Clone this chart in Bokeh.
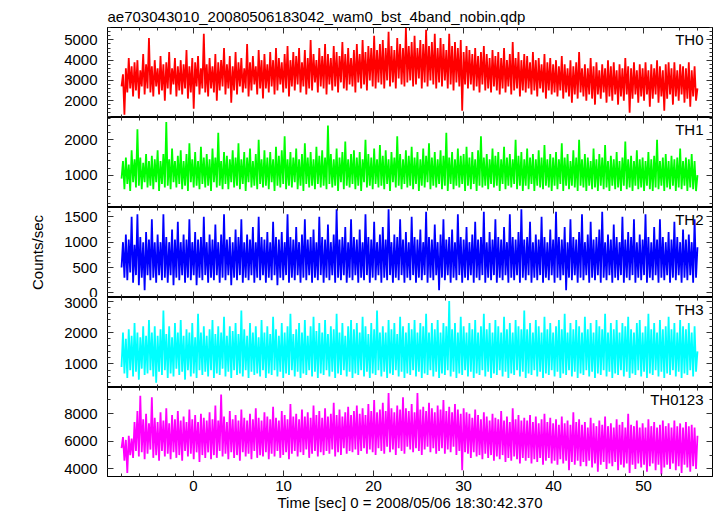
from bokeh.plotting import figure
from bokeh.models import Range1d, LinearAxis, SingleIntervalTicker, Label, CustomJSTickFormatter
from bokeh.layouts import column
from bokeh.embed import file_html
from bokeh.resources import INLINE
import numpy as np

title_text = "ae703043010_20080506183042_wam0_bst_4band_nobin.qdp"
x_label = "Time [sec] 0 = 2008/05/06 18:30:42.370"
y_label = "Counts/sec"
band_names = ["TH0", "TH1", "TH2", "TH3", "TH0123"]

t_start = -8.0
t_end = 56.0

th0 = [
    2700, 3300, 1300, 3600, 2400, 4100, 2600, 3700, 2200, 3900, 2500, 4000, 2100, 3500, 2700, 4300, 2300, 3800, 2600, 5100,
    2400, 3700, 2200, 4000, 2700, 3600, 2300, 4200, 2500, 3800, 2000, 3900, 2600, 4400, 2300, 3600, 2800, 4100, 2200, 3700,
    2500, 4000, 2300, 3800, 2600, 4500, 2100, 3700, 2400, 4100, 1600, 3900, 2700, 4200, 2300, 3600, 2600, 5300, 2400, 3800,
    2200, 4100, 2600, 3700, 2400, 4300, 2000, 3900, 2500, 4000, 2700, 4600, 2300, 3800, 2600, 4200, 1900, 3700, 2500, 4400,
    2300, 3900, 2700, 4100, 2400, 3600, 2600, 4800, 2200, 3900, 2500, 4200, 2800, 3700, 2300, 4500, 2600, 4000, 2100, 4300,
    2600, 3800, 2400, 4400, 2700, 4000, 2300, 4600, 2500, 4100, 2800, 3900, 2400, 4300, 2600, 4700, 2200, 4000, 2700, 4400,
    2500, 4200, 2800, 4600, 2400, 3900, 2700, 4500, 2300, 4100, 2600, 5000, 2500, 4300, 2900, 4000, 2400, 4600, 2700, 4200,
    2600, 4800, 2300, 4300, 2800, 4100, 2500, 4700, 2700, 4400, 2400, 4200, 2900, 4900, 2600, 4300, 2500, 4600, 2800, 4100,
    2700, 4500, 2400, 4800, 2900, 4300, 2600, 5000, 2800, 4400, 2500, 4700, 3000, 4600, 2700, 5200, 2600, 4500, 2900, 4800,
    2800, 5000, 2600, 4600, 3000, 5400, 2700, 4700, 2900, 4500, 2600, 5100, 3100, 4800, 2800, 4600, 2700, 5600, 2900, 4700,
    3000, 4900, 2700, 5200, 2800, 4600, 3100, 5000, 2600, 4800, 2900, 5500, 2700, 4700, 3000, 4900, 2800, 5300, 2600, 4600,
    2900, 5100, 2700, 4800, 3000, 4500, 2600, 5300, 2800, 4700, 2500, 4900, 2900, 4600, 2700, 5000, 1500, 4400, 2800, 4700,
    2600, 4500, 2800, 4300, 2500, 4600, 2700, 4200, 2400, 4400, 2800, 4700, 2500, 4300, 2600, 4100, 2400, 4500, 2700, 4200,
    2500, 4400, 2300, 4100, 2600, 4600, 2400, 4000, 2700, 4300, 2300, 4900, 2500, 4100, 2600, 4400, 2200, 4000, 2500, 4300,
    2400, 4200, 2600, 3900, 2300, 4400, 2500, 4000, 2200, 4100, 2600, 3800, 2400, 4300, 2100, 3900, 2500, 4100, 2300, 3800,
    2400, 4000, 2200, 3700, 2500, 4200, 2100, 3800, 2400, 3600, 2200, 4000, 1900, 3700, 2300, 3900, 2100, 4400, 2400, 3600,
    2200, 3800, 2000, 3600, 2300, 4100, 2100, 3700, 1800, 3900, 2300, 3500, 2100, 3800, 2400, 3600, 1900, 4000, 2200, 3700,
    2000, 3900, 2300, 3500, 1800, 3800, 2200, 3600, 2000, 4100, 2300, 3700, 1400, 3600, 2100, 3900, 2300, 3500, 1900, 3800,
    2200, 3600, 2000, 3900, 2300, 3500, 1700, 3800, 2100, 3600, 2300, 4000, 1900, 3700, 2200, 3500, 1500, 3800, 2100, 3900,
    2300, 3600, 1800, 3900, 2200, 3500, 2000, 3800, 2300, 3700, 1900, 3600, 2100, 3900, 1700, 3500, 2200, 3700, 2000, 2600,
]

th1 = [
    900, 1400, 600, 1500, 750, 1300, 550, 1700, 800, 1450, 650, 2300, 700, 1500, 600, 1350, 800, 1600, 650, 1400,
    700, 1550, 600, 1450, 800, 1700, 550, 1400, 750, 1600, 650, 2500, 700, 1450, 600, 1750, 800, 1400, 650, 1550,
    750, 1700, 600, 1400, 700, 1600, 550, 1900, 800, 1450, 650, 1650, 700, 1400, 600, 1800, 750, 1500, 650, 1600,
    700, 1450, 550, 1750, 800, 1500, 650, 2200, 700, 1400, 600, 1650, 750, 1550, 600, 1450, 800, 1700, 650, 1500,
    700, 1900, 600, 1450, 750, 1650, 550, 1500, 800, 1750, 650, 1400, 700, 1600, 600, 2000, 750, 1450, 650, 1700,
    700, 1500, 600, 1650, 800, 1450, 550, 1800, 700, 1550, 650, 1700, 750, 2100, 600, 1450, 700, 1650, 650, 1500,
    800, 1750, 600, 1450, 700, 1600, 550, 1900, 750, 1500, 650, 1650, 700, 1450, 600, 1800, 750, 1550, 650, 1700,
    700, 1500, 600, 2400, 750, 1600, 650, 1450, 700, 1750, 550, 1500, 800, 1650, 600, 1950, 700, 1450, 650, 1600,
    750, 1700, 600, 1500, 700, 1650, 550, 1450, 800, 2000, 650, 1600, 700, 1500, 600, 1750, 750, 1450, 650, 1850,
    700, 1550, 600, 1700, 750, 1450, 550, 1650, 800, 1500, 650, 2100, 700, 1600, 600, 1450, 750, 1700, 650, 1550,
    700, 1800, 600, 1500, 750, 1650, 550, 1450, 700, 1750, 650, 1550, 800, 1900, 600, 1500, 700, 1650, 650, 1450,
    750, 1700, 600, 1550, 700, 2200, 550, 1500, 750, 1650, 600, 1450, 700, 1750, 650, 1550, 750, 1600, 550, 1800,
    700, 1500, 600, 1650, 750, 1450, 550, 1700, 700, 2100, 650, 1500, 700, 1600, 600, 1450, 750, 1750, 650, 1550,
    700, 1650, 550, 1450, 750, 1800, 600, 1500, 700, 1600, 650, 1450, 750, 2000, 600, 1550, 700, 1650, 550, 1450,
    700, 1750, 600, 1500, 750, 1600, 550, 1450, 700, 1700, 650, 1500, 600, 1850, 700, 1450, 650, 1600, 550, 1500,
    700, 1650, 600, 1450, 750, 1900, 550, 1500, 700, 1600, 600, 1400, 700, 1700, 650, 1500, 550, 2000, 700, 1450,
    650, 1600, 550, 1500, 700, 1400, 600, 1750, 650, 1450, 550, 1600, 700, 1500, 600, 1850, 650, 1400, 550, 1550,
    700, 1450, 600, 1650, 650, 1400, 550, 1500, 700, 1950, 600, 1450, 650, 1550, 550, 1400, 700, 1700, 600, 1450,
    650, 1500, 550, 1400, 700, 1650, 600, 1450, 550, 1550, 650, 2000, 600, 1400, 700, 1500, 550, 1600, 650, 1400,
    600, 1550, 700, 1450, 550, 1500, 650, 1750, 600, 1400, 700, 1500, 550, 1450, 650, 1600, 600, 1400, 550, 1000,
]

th2 = [
    500, 1000, 300, 1150, 250, 1050, 400, 1500, 200, 950, 350, 1550, 150, 1100, 300, 1000, 50, 1200, 350, 1050,
    250, 1450, 300, 1000, 200, 1150, 350, 1000, 250, 1550, 300, 1100, 200, 1000, 350, 1250, 150, 1050, 300, 1400,
    250, 1000, 350, 1150, 200, 1050, 300, 1450, 250, 1000, 350, 1200, 150, 1050, 300, 1100, 250, 1500, 350, 1000,
    200, 1150, 300, 1050, 250, 1350, 350, 1000, 200, 1150, 300, 1550, 250, 1050, 350, 1100, 150, 1000, 300, 1250,
    250, 1100, 350, 1450, 200, 1000, 300, 1150, 250, 1050, 350, 1300, 200, 1000, 300, 1500, 250, 1100, 350, 1050,
    200, 1200, 300, 1000, 250, 1400, 350, 1100, 150, 1050, 300, 1200, 250, 1000, 350, 1550, 200, 1100, 300, 1050,
    250, 1300, 350, 1000, 200, 1150, 300, 1450, 250, 1050, 350, 1100, 200, 1250, 300, 1000, 250, 1500, 350, 1100,
    200, 1050, 300, 1350, 250, 1000, 350, 1150, 200, 1650, 300, 1050, 250, 1100, 350, 1300, 200, 1000, 300, 1450,
    250, 1100, 350, 1050, 200, 1250, 300, 1000, 250, 1550, 350, 1100, 200, 1050, 300, 1400, 250, 1000, 350, 1150,
    200, 1300, 300, 1050, 250, 1650, 350, 1000, 200, 1150, 300, 1100, 250, 1450, 350, 1050, 200, 1200, 300, 1000,
    250, 1500, 350, 1100, 200, 1050, 300, 1250, 250, 1000, 350, 1600, 200, 1100, 300, 1050, 250, 1350, 350, 1000,
    50, 1150, 300, 1450, 250, 1050, 350, 1100, 200, 1250, 300, 1000, 250, 1550, 350, 1100, 200, 1050, 300, 1300,
    250, 1000, 350, 1150, 200, 1400, 300, 1050, 250, 1100, 350, 1600, 200, 1000, 300, 1200, 250, 1050, 350, 1450,
    200, 1100, 300, 1050, 250, 1300, 350, 1000, 200, 1550, 300, 1100, 250, 1050, 350, 1200, 200, 1650, 300, 1050,
    250, 1100, 350, 1400, 200, 1000, 300, 1150, 250, 1050, 350, 1500, 200, 1100, 300, 1000, 250, 1250, 350, 1050,
    200, 1600, 300, 1100, 250, 1050, 350, 1300, 50, 1000, 300, 1450, 250, 1100, 350, 1050, 200, 1200, 300, 1550,
    250, 1000, 350, 1150, 200, 1400, 300, 1050, 250, 1100, 350, 1250, 200, 1600, 300, 1000, 250, 1150, 350, 1050,
    200, 1350, 300, 1100, 250, 1000, 350, 1500, 200, 1050, 300, 1200, 250, 1100, 350, 1450, 200, 1000, 300, 1150,
    250, 1050, 350, 1550, 200, 1100, 300, 1000, 250, 1300, 350, 1050, 200, 1450, 300, 1100, 250, 1000, 350, 1200,
    200, 1050, 300, 1400, 250, 1100, 350, 1000, 200, 1250, 300, 1050, 250, 1150, 350, 1000, 200, 1450, 300, 900,
]

th3 = [
    900, 2000, 700, 1800, 550, 2100, 800, 1900, 600, 2300, 750, 2000, 500, 1850, 850, 2200, 650, 1900, 700, 2400,
    800, 2000, 600, 2200, 400, 1900, 750, 2100, 650, 2700, 800, 1950, 550, 2200, 700, 1850, 600, 2300, 850, 2000,
    650, 2400, 750, 1900, 500, 2100, 800, 2000, 600, 2300, 700, 1850, 550, 2600, 800, 2000, 650, 2200, 750, 1900,
    600, 2100, 800, 2400, 550, 1950, 700, 2200, 650, 2000, 850, 2500, 600, 1900, 750, 2200, 550, 2050, 800, 2300,
    650, 1950, 700, 2700, 600, 2100, 800, 1900, 550, 2300, 750, 2000, 650, 2200, 700, 1850, 600, 2400, 800, 2000,
    550, 2200, 700, 1950, 650, 2500, 800, 2100, 600, 1900, 750, 2300, 550, 2000, 700, 2200, 650, 2600, 800, 1950,
    600, 2100, 750, 2300, 550, 2000, 700, 2400, 650, 1900, 800, 2200, 600, 2500, 750, 2050, 550, 2300, 700, 2000,
    650, 2400, 800, 1950, 600, 2200, 750, 2100, 550, 2600, 700, 2000, 650, 2300, 800, 1900, 600, 2200, 750, 2400,
    550, 2100, 700, 2300, 650, 2000, 800, 2500, 600, 2200, 750, 1950, 550, 2300, 700, 2100, 650, 2700, 800, 2000,
    600, 2200, 750, 2000, 550, 2400, 700, 2100, 650, 2300, 800, 1950, 600, 2500, 750, 2200, 550, 2000, 700, 2300,
    650, 2100, 800, 2400, 600, 2000, 750, 2300, 550, 2200, 700, 2600, 650, 2000, 800, 2300, 600, 2100, 750, 2400,
    550, 2000, 700, 2300, 650, 2200, 800, 3000, 600, 2100, 750, 2300, 550, 2000, 700, 2500, 650, 2200, 800, 2000,
    600, 2300, 750, 2100, 550, 2400, 700, 2000, 650, 2200, 800, 2600, 600, 2100, 750, 2300, 550, 2000, 700, 2400,
    650, 2200, 800, 2000, 600, 2500, 750, 2100, 550, 2300, 700, 2000, 650, 2400, 800, 2200, 600, 2100, 750, 2700,
    550, 2100, 700, 2300, 650, 2000, 800, 2400, 600, 2200, 750, 2000, 550, 2500, 700, 2100, 650, 2300, 800, 2000,
    600, 2200, 750, 2400, 550, 2100, 700, 2600, 650, 2000, 800, 2300, 600, 2100, 750, 2400, 550, 2200, 700, 2000,
    650, 2500, 800, 2100, 600, 2300, 750, 2000, 550, 2400, 700, 2200, 650, 2100, 800, 2600, 600, 2000, 750, 2300,
    550, 2100, 700, 2400, 650, 2000, 800, 2300, 600, 2200, 750, 2500, 550, 2100, 700, 2000, 650, 2300, 800, 2400,
    600, 2000, 750, 2200, 550, 2600, 700, 2100, 650, 2300, 800, 2000, 600, 2400, 750, 2100, 550, 2200, 700, 2500,
    650, 2100, 800, 2300, 600, 2000, 750, 2400, 550, 2200, 700, 2100, 650, 2300, 800, 2000, 600, 2200, 750, 1400,
]

th0123 = [
    5500, 6300, 4600, 6100, 3700, 6400, 5000, 6200, 4800, 7400, 5300, 8200, 4900, 9300, 5200, 7600, 4700, 8000, 5100, 7300,
    5400, 9200, 4800, 7700, 5000, 7400, 4600, 8100, 5300, 7500, 4900, 8400, 5100, 7300, 4700, 7900, 5200, 7600, 4800, 8200,
    5000, 7500, 4600, 7800, 5300, 7400, 4900, 8300, 5100, 7600, 4700, 7900, 5200, 7400, 4500, 8000, 5000, 7700, 4800, 7500,
    5200, 8100, 4700, 7600, 5000, 8600, 4800, 7500, 5300, 9400, 4900, 7800, 5100, 7400, 4700, 8200, 5200, 7600, 4800, 7900,
    5000, 7500, 4600, 8300, 5200, 7700, 4900, 7500, 5100, 8000, 4700, 7600, 5300, 8400, 4800, 7700, 5000, 7500, 4900, 8100,
    5200, 7800, 4700, 7600, 5100, 8500, 4900, 7700, 5300, 7500, 4800, 8200, 5000, 7900, 5200, 7600, 4700, 8700, 5100, 7800,
    5300, 8000, 4900, 7600, 5200, 8300, 5000, 7800, 5400, 8100, 4800, 7700, 5100, 8600, 5300, 7900, 4900, 8200, 5200, 7700,
    5000, 8400, 5300, 7800, 5100, 8000, 5400, 8800, 4900, 7900, 5200, 8300, 5000, 7800, 5500, 8100, 5100, 8500, 5300, 7900,
    5200, 8200, 5400, 8600, 5000, 8000, 5300, 8400, 5500, 7900, 5100, 8700, 5400, 8200, 5200, 9000, 5000, 8100, 5500, 8300,
    5300, 8800, 5100, 8200, 5600, 9500, 5200, 8400, 5400, 8100, 5000, 8600, 5500, 8300, 5300, 9200, 5100, 8400, 5600, 8200,
    5400, 8700, 5200, 8100, 5500, 9500, 5300, 8300, 5000, 8500, 5400, 8200, 5600, 8800, 5200, 8400, 5500, 8100, 5100, 8600,
    5300, 8300, 5500, 9000, 5100, 8200, 5400, 8500, 5200, 8100, 5600, 8700, 5000, 8300, 5300, 8000, 3900, 8400, 5200, 8100,
    5100, 8000, 4800, 7700, 5200, 8300, 4900, 7900, 5000, 7600, 4700, 8100, 5100, 7800, 4800, 7500, 5000, 8000, 4600, 7700,
    4900, 7600, 4700, 8200, 5000, 7500, 4500, 7800, 4800, 7400, 4600, 8400, 4900, 7600, 4700, 7900, 4400, 7500, 4800, 7700,
    4600, 7500, 4800, 7900, 4400, 7400, 4700, 7800, 4500, 7300, 4800, 7600, 4300, 8000, 4600, 7400, 4800, 7700, 4400, 7300,
    4600, 7600, 4300, 7200, 4700, 7800, 4400, 7300, 4600, 7500, 3900, 7200, 4500, 8100, 4300, 7400, 4600, 7600, 4200, 7200,
    4500, 7400, 4200, 7000, 4600, 7700, 4100, 7300, 4400, 7100, 3800, 7500, 4300, 7200, 4500, 7800, 4000, 7100, 4400, 7300,
    4200, 7000, 4500, 7600, 3900, 7200, 4300, 7400, 4100, 7000, 4400, 8000, 3700, 7200, 4300, 7100, 4000, 7500, 4400, 7000,
    4100, 7300, 4300, 7000, 3800, 7600, 4200, 7100, 4400, 7400, 3900, 7000, 4300, 7200, 3600, 7500, 4100, 7100, 4300, 7300,
    4000, 7000, 4400, 7500, 3900, 7100, 4200, 7300, 3700, 7000, 4300, 7400, 4100, 7100, 3800, 7200, 4200, 7000, 4000, 6400,
]

series = [th0, th1, th2, th3, th0123]
colors = ["#ff0000", "#00ff00", "#0000ff", "#00ffff", "#ff00ff"]
y_ranges = [(1165, 5615), (85, 2630), (-92, 1684), (250, 3115), (3446, 9906)]
y_major = [1000, 1000, 500, 1000, 2000]
y_minor = [5, 5, 5, 5, 2]
frame_heights = [90, 90, 90, 90, 89]

FONT = "Liberation Sans"
FS = "15px"
TICK_COLOR = "#333333"

xr = Range1d(-9.56, 57.67)
blank = CustomJSTickFormatter(code="return ''")


def tick_style(ax):
    ax.major_tick_in = 6
    ax.major_tick_out = 0
    ax.minor_tick_in = 3
    ax.minor_tick_out = 0
    ax.axis_line_color = "black"
    ax.major_tick_line_color = TICK_COLOR
    ax.minor_tick_line_color = TICK_COLOR


def hide_labels(ax):
    ax.formatter = blank
    ax.major_label_text_font_size = "0px"
    ax.major_label_standoff = 0


panels = []
n = len(series)
for k in range(n):
    top = k == 0
    bottom = k == n - 1
    yr = Range1d(*y_ranges[k])
    p = figure(frame_width=605, frame_height=frame_heights[k], x_range=xr, y_range=yr,
               output_backend="svg", toolbar_location=None,
               min_border_left=107, min_border_right=5,
               min_border_top=27 if top else 0,
               min_border_bottom=40 if bottom else 0,
               background_fill_color="white", border_fill_color="white")
    p.grid.visible = False
    p.outline_line_color = "black"
    p.outline_line_width = 1

    t = np.linspace(t_start, t_end, len(series[k]))
    p.line(t, series[k], line_color=colors[k], line_width=1.8)

    # bottom x axis
    xa = p.xaxis[0]
    xa.ticker = SingleIntervalTicker(interval=10, num_minor_ticks=5)
    tick_style(xa)
    if bottom:
        xa.major_label_text_font = FONT
        xa.major_label_text_font_size = FS
        xa.major_label_text_color = "black"
        xa.major_label_standoff = 4
        xa.axis_label = x_label
        xa.axis_label_text_font = FONT
        xa.axis_label_text_font_size = FS
        xa.axis_label_text_font_style = "normal"
        xa.axis_label_text_color = "black"
        xa.axis_label_standoff = 0
    else:
        hide_labels(xa)

    # left y axis
    ya = p.yaxis[0]
    ya.ticker = SingleIntervalTicker(interval=y_major[k], num_minor_ticks=y_minor[k])
    tick_style(ya)
    ya.major_label_text_font = FONT
    ya.major_label_text_font_size = FS
    ya.major_label_text_color = "black"
    ya.major_label_standoff = 10
    if k == 2:
        ya.axis_label = y_label
        ya.axis_label_text_font = FONT
        ya.axis_label_text_font_size = FS
        ya.axis_label_text_font_style = "normal"
        ya.axis_label_text_color = "black"
        ya.axis_label_standoff = 15

    # top and right tick-only axes
    ta = LinearAxis(ticker=SingleIntervalTicker(interval=10, num_minor_ticks=5))
    tick_style(ta)
    hide_labels(ta)
    p.add_layout(ta, "above")
    ra = LinearAxis(ticker=SingleIntervalTicker(interval=y_major[k], num_minor_ticks=y_minor[k]))
    tick_style(ra)
    hide_labels(ra)
    p.add_layout(ra, "right")

    if top:
        p.title.text = title_text
        p.title.text_font = FONT
        p.title.text_font_size = FS
        p.title.text_font_style = "normal"
        p.title.text_color = "black"
        p.title.align = "left"
        p.title.offset = 0
        p.title.standoff = 6

    lab = Label(x=xr.end, y=y_ranges[k][1], x_offset=-9, y_offset=-3,
                text=band_names[k], text_align="right", text_baseline="top",
                text_font=FONT, text_font_size=FS, text_color="black")
    p.add_layout(lab)
    panels.append(p)

layout = column(*panels, spacing=0)
open("out.html", "w").write(file_html(layout, INLINE))
